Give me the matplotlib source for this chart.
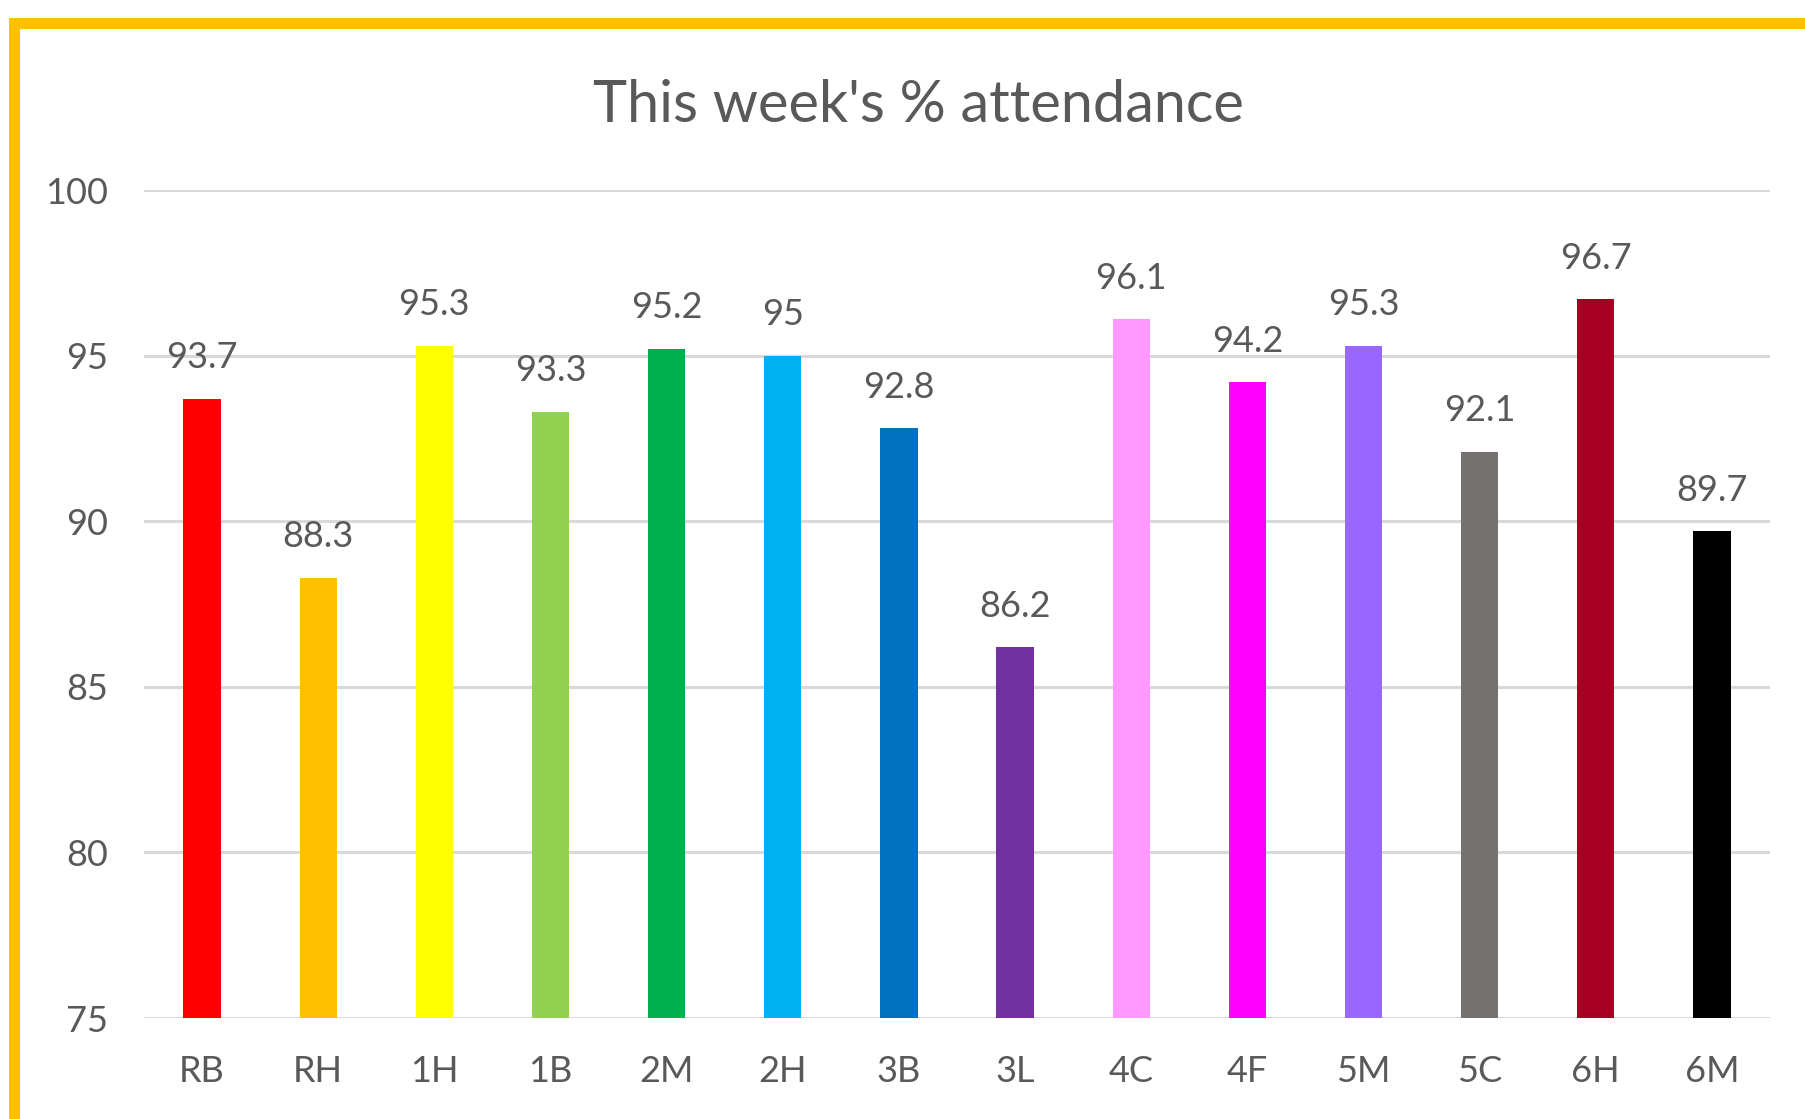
import numpy as np
import matplotlib.pyplot as plt
from matplotlib.patches import Rectangle

classes = ['RB', 'RH', '1H', '1B', '2M', '2H', '3B', '3L', '4C', '4F', '5M', '5C', '6H', '6M']
attendance = [93.7, 88.3, 95.3, 93.3, 95.2, 95, 92.8, 86.2, 96.1, 94.2, 95.3, 92.1, 96.7, 89.7]
bar_colors = ['#FF0000', '#FFC000', '#FFFF00', '#92D050', '#00B050', '#00B0F0', '#0070C0',
              '#7030A0', '#FF99FF', '#FF00FF', '#9966FF', '#767171', '#A50021', '#000000']
y_ticks = [75, 80, 85, 90, 95, 100]

plt.rcParams['font.family'] = ['Lato', 'DejaVu Sans']
text_col = '#595959'

fig = plt.figure(figsize=(18.06, 11.19), dpi=100)
ax = fig.add_axes([144 / 1806, 1 - 1018 / 1119, 1626 / 1806, 828 / 1119])

x = np.arange(len(classes))
ax.bar(x, [v - 75 for v in attendance], bottom=75, width=0.32, color=bar_colors, zorder=2)

# value labels above bars
for xi, v in zip(x, attendance):
    ax.annotate(f'{v:g}', (xi, v), xytext=(0, 22), textcoords='offset points',
                ha='center', va='baseline', fontsize=26, color=text_col, zorder=3)

ax.set_ylim(75, 100)
ax.set_xlim(-0.5, len(classes) - 0.5)
ax.set_yticks(y_ticks)
ax.set_xticks(x)
ax.set_xticklabels(classes)
ax.grid(axis='y', color='#D9D9D9', linewidth=2.2, zorder=0)
ax.set_axisbelow(True)
for s in ax.spines.values():
    s.set_visible(False)
ax.tick_params(axis='both', length=0, labelsize=26, labelcolor=text_col)
ax.tick_params(axis='y', pad=26)
ax.tick_params(axis='x', pad=27)

fig.text(918 / 1806, 1 - 106 / 1119, "This week's % attendance", ha='center', va='center',
         fontsize=41.5, color=text_col)

# orange frame around the chart (cropped at right and bottom)
fig.patches.append(Rectangle((14.5 / 1806, -0.1), 1.2, (1119 - 22.5) / 1119 + 0.1,
                             transform=fig.transFigure, fill=False, edgecolor='#FFC000',
                             linewidth=7.9))

fig.savefig('out.png', dpi=100)
